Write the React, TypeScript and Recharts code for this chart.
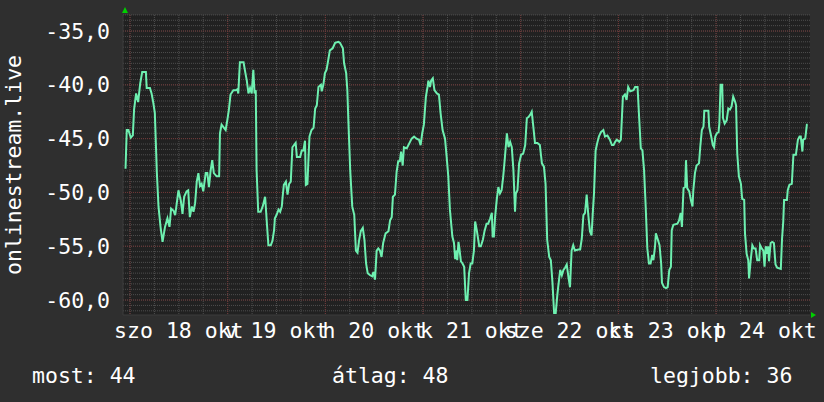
import { CartesianGrid, Line, LineChart, XAxis, YAxis } from "recharts";

// ── adatok (órák okt 18. 00:00-tól) ──────────────────────────────
const hours = [
	-1.1, -0.8, -0.4, 0.2, 0.7, 1.0, 1.5, 2.0, 2.5, 3.0, 3.9, 4.1, 4.9, 5.3, 5.7, 6.1, 6.6, 7.0, 7.5, 8.0,
	8.6, 9.2, 9.7, 10.1, 10.7, 11.1, 11.5, 11.9, 12.5, 12.9, 13.3, 13.9, 14.3, 14.7, 15.2, 15.6, 16.0, 16.4, 16.8, 17.2,
	17.6, 18.0, 18.6, 19.0, 19.4, 19.8, 20.2, 20.6, 21.3, 21.9, 22.1, 22.5, 23.1, 23.5, 23.9, 24.3, 24.7, 25.4, 26.0, 26.4,
	26.6, 27.0, 27.9, 28.3, 28.7, 29.1, 29.5, 29.9, 30.3, 30.6, 30.9, 31.1, 31.5, 32.1, 32.6, 33.2, 33.6, 34.0, 34.6, 35.0,
	35.4, 35.6, 36.0, 36.5, 36.9, 37.3, 37.5, 37.8, 38.3, 38.7, 39.1, 39.5, 39.9, 40.3, 40.7, 41.0, 41.8, 42.2, 42.6, 43.0,
	43.2, 43.6, 43.8, 44.1, 44.6, 45.1, 45.5, 45.9, 46.3, 46.9, 47.1, 47.5, 47.9, 48.3, 48.7, 49.1, 49.8, 50.4, 51.2, 51.6,
	52.3, 52.6, 53.1, 53.4, 53.6, 54.1, 54.6, 55.1, 55.5, 55.9, 56.3, 56.7, 57.2, 57.6, 58.0, 58.4, 59.0, 59.5, 59.8, 60.2,
	60.6, 61.0, 61.4, 61.8, 62.2, 62.8, 63.5, 63.9, 64.3, 64.6, 65.1, 65.5, 65.9, 66.3, 66.6, 67.0, 67.3, 68.0, 68.4, 68.8,
	69.2, 69.8, 70.4, 71.0, 71.4, 71.8, 72.2, 72.7, 73.1, 73.3, 73.7, 74.0, 74.4, 74.8, 75.4, 75.9, 76.3, 76.8, 77.4, 77.8,
	78.2, 78.6, 79.2, 79.6, 79.9, 80.3, 80.4, 80.7, 80.9, 81.3, 81.7, 82.1, 82.5, 82.9, 83.3, 83.7, 84.1, 84.5, 84.8, 85.2,
	85.8, 86.2, 86.7, 87.1, 87.6, 88.0, 88.5, 88.9, 89.1, 89.4, 89.7, 90.1, 90.5, 90.9, 91.3, 91.7, 92.1, 92.6, 93.0, 93.4,
	93.8, 94.2, 94.6, 94.8, 95.2, 95.6, 96.1, 96.6, 97.1, 97.5, 97.9, 98.3, 98.7, 99.1, 99.5, 100.1, 100.7, 101.2, 101.7, 102.1,
	102.5, 103.0, 103.4, 103.8, 104.2, 104.6, 105.0, 105.2, 105.7, 106.1, 106.5, 106.9, 107.3, 107.7, 108.1, 108.5, 108.9, 109.3, 110.2, 110.6,
	111.0, 111.4, 111.8, 112.2, 112.6, 113.0, 113.4, 113.7, 114.0, 114.4, 114.8, 115.2, 115.7, 116.3, 116.7, 117.3, 117.9, 118.4, 118.8, 119.2,
	119.6, 120.2, 120.6, 121.1, 121.6, 122.0, 122.4, 122.9, 123.7, 124.1, 124.7, 125.1, 125.5, 125.9, 126.3, 126.7, 127.1, 127.5, 127.9, 128.3,
	128.6, 129.0, 129.2, 129.7, 130.1, 130.5, 130.7, 131.2, 131.7, 132.1, 132.5, 132.9, 133.1, 133.5, 134.5, 134.9, 135.3, 135.6, 136.0, 136.4,
	136.6, 136.9, 137.4, 137.8, 138.2, 138.4, 138.8, 139.2, 139.8, 140.1, 140.5, 140.9, 141.1, 142.1, 142.3, 142.8, 143.2, 143.5, 143.8, 144.2,
	144.6, 144.8, 145.1, 145.5, 145.7, 146.1, 146.6, 147.0, 147.4, 147.8, 148.2, 148.7, 148.9, 149.2, 149.6, 150.1, 150.4, 150.9, 151.1, 151.5,
	151.9, 152.1, 152.5, 152.9, 153.3, 153.7, 154.1, 154.6, 154.8, 155.2, 155.6, 155.9, 156.2, 156.6, 156.8, 157.0, 157.4, 157.8, 158.2, 158.6,
	159.0, 159.9, 160.2, 160.5, 160.7, 161.4, 161.6, 162.0, 162.6, 163.0, 163.6, 164.1, 164.5, 164.8, 165.2, 165.4, 165.9, 166.3, 166.5,
];

const values = [
	-47.8, -44.2, -44.2, -44.9, -44.7, -42.3, -40.8, -41.6, -39.9, -38.8, -38.8, -40.3, -40.3, -40.8, -41.6, -42.6, -48.2, -51.3, -53.2, -54.6,
	-53.2, -52.4, -53.2, -51.5, -51.7, -52.1, -51.0, -49.8, -50.8, -52.0, -50.4, -49.9, -49.8, -52.3, -51.3, -51.8, -51.0, -49.0, -48.2, -49.4,
	-49.2, -49.9, -48.2, -48.2, -49.5, -48.0, -47.0, -48.2, -48.5, -48.5, -44.5, -43.7, -44.0, -44.2, -43.3, -42.3, -40.9, -40.5, -40.5, -40.4,
	-40.8, -37.9, -37.9, -38.8, -39.6, -40.8, -40.3, -40.8, -38.6, -40.8, -40.5, -47.9, -51.8, -51.8, -51.3, -50.4, -52.7, -54.9, -54.9, -54.5,
	-53.5, -52.4, -52.1, -51.6, -51.8, -51.3, -50.4, -49.3, -49.0, -50.2, -49.2, -49.0, -45.8, -45.6, -45.4, -46.7, -46.7, -46.1, -46.1, -45.2,
	-49.3, -49.2, -47.3, -44.8, -44.2, -44.0, -42.2, -41.9, -40.2, -40.0, -40.6, -40.0, -38.9, -38.6, -37.7, -36.8, -36.6, -36.1, -36.0, -36.1,
	-36.6, -38.0, -38.9, -40.5, -42.8, -47.9, -51.3, -52.1, -55.4, -55.6, -54.4, -53.6, -53.3, -54.4, -56.6, -57.5, -57.7, -57.8, -57.4, -58.1,
	-55.4, -55.2, -55.4, -56.0, -54.7, -53.8, -53.6, -52.6, -52.3, -50.4, -50.2, -48.1, -47.1, -47.1, -46.2, -47.5, -45.8, -45.9, -45.6, -45.3,
	-45.0, -44.8, -45.0, -45.1, -45.6, -44.5, -43.7, -41.1, -40.2, -39.6, -40.2, -39.6, -39.4, -40.5, -40.8, -40.9, -42.6, -44.2, -45.0, -46.7,
	-48.5, -51.6, -54.1, -54.7, -56.2, -55.4, -56.3, -54.6, -55.1, -56.4, -56.6, -56.9, -60.0, -60.0, -57.5, -56.6, -56.6, -55.4, -52.7, -53.5,
	-55.0, -55.0, -54.4, -53.6, -52.9, -52.9, -52.4, -51.9, -54.1, -54.1, -52.3, -50.7, -49.5, -50.1, -49.8, -48.5, -46.8, -44.5, -45.8, -45.3,
	-45.8, -47.9, -51.8, -50.1, -49.8, -47.3, -46.5, -46.4, -45.6, -43.1, -43.0, -42.8, -42.5, -43.9, -45.4, -45.4, -45.6, -47.3, -47.6, -49.2,
	-54.4, -56.0, -56.3, -58.4, -61.2, -61.2, -59.5, -58.8, -57.2, -57.7, -57.2, -57.0, -56.7, -57.8, -58.8, -55.4, -54.9, -55.4, -55.3, -55.3,
	-54.3, -52.1, -51.9, -50.2, -52.1, -53.6, -54.0, -51.9, -50.1, -46.1, -45.4, -44.8, -44.4, -44.2, -44.8, -44.7, -45.1, -45.6, -45.6, -45.3,
	-45.1, -45.3, -45.1, -41.1, -40.9, -41.4, -40.2, -40.6, -40.5, -40.2, -40.2, -43.1, -45.9, -46.1, -47.9, -51.3, -55.2, -56.6, -56.6, -55.8,
	-56.3, -55.0, -53.8, -54.4, -54.9, -56.6, -58.4, -58.8, -58.9, -58.8, -57.2, -56.9, -53.5, -53.0, -52.9, -52.6, -51.9, -53.2, -49.6, -49.5,
	-47.0, -49.6, -49.9, -50.7, -51.3, -49.8, -48.2, -47.5, -47.3, -45.8, -44.2, -43.9, -42.4, -42.4, -43.9, -44.8, -45.6, -45.8, -44.8, -44.5,
	-44.4, -43.6, -40.0, -40.0, -43.1, -43.6, -43.3, -42.2, -42.3, -42.0, -41.1, -41.6, -41.9, -46.4, -48.5, -49.2, -50.6, -50.7, -53.8, -55.7,
	-56.3, -58.0, -56.3, -54.9, -55.2, -55.2, -56.3, -56.3, -54.9, -55.2, -55.4, -56.9, -55.0, -55.7, -55.0, -56.4, -54.7, -54.6, -54.7, -56.7,
	-57.0, -57.1, -54.3, -52.7, -50.7, -50.7, -49.8, -49.3, -49.2, -46.5, -46.5, -45.1, -44.8, -44.8, -46.2, -45.1, -45.0, -43.7, -43.7,
];

const dayLabelHours = [12, 36, 60, 84, 108, 132, 156];
const dayLabels = ["szo 18 okt", "v 19 okt", "h 20 okt", "k 21 okt", "sze 22 okt", "cs 23 okt", "p 24 okt"];
const yTicks = [-60, -55, -50, -45, -40, -35];

const statLabels = ["most: 44", "átlag: 48", "legjobb: 36"];
const seriesName = "onlinestream.live";

// ── rács (6 óránként / 0,5-enként, nagy: naponta / 5-enként) ─────
const minorX: number[] = [];
for (let h = 0; h <= 166; h += 6) minorX.push(h);
const majorX = minorX.filter((h) => h % 24 === 0);
const minorY: number[] = [];
for (let v = -61; v <= -33.5; v += 0.5) minorY.push(v);
const majorY = yTicks;

const X_DOMAIN: [number, number] = [-1.72, 167.07];
const Y_DOMAIN: [number, number] = [-61.39, -33.51];

const FONT = "DejaVu Sans Mono";
const FONT_SIZE = 21.5;
const LINE_COLOR = "#6ef0b0";
const BG = "#2f2f2f";
const PLOT_BG = "#212121";

const data = hours.map((h, i) => ({ h, v: values[i] }));

export default function App() {
	return (
		<div style={{ position: "absolute", left: 0, top: 0, width: 824, height: 402, background: BG }}>
			<LineChart width={824} height={402} data={data} margin={{ top: 15, right: 14, bottom: 57, left: 0 }}>
				<CartesianGrid
					verticalValues={minorX}
					horizontalValues={minorY}
					stroke="#4e4e4e"
					strokeDasharray="1 1"
					fill={PLOT_BG}
					fillOpacity={1}
				/>
				<CartesianGrid
					verticalValues={majorX}
					horizontalValues={majorY}
					stroke="#703636"
					strokeDasharray="1 1"
				/>
				<XAxis
					dataKey="h"
					type="number"
					domain={X_DOMAIN}
					allowDataOverflow
					ticks={dayLabelHours}
					interval={0}
					tickFormatter={(h) => dayLabels[dayLabelHours.indexOf(h)] ?? ""}
					tick={{ fill: "#ffffff", fontSize: FONT_SIZE, fontFamily: FONT }}
					tickLine={false}
					axisLine={{ stroke: "#3c3c3c" }}
					height={30}
				/>
				<YAxis
					dataKey="v"
					type="number"
					domain={Y_DOMAIN}
					allowDataOverflow
					ticks={yTicks}
					interval={0}
					tickFormatter={(v) => v.toFixed(1).replace(".", ",")}
					tick={{ fill: "#ffffff", fontSize: FONT_SIZE, fontFamily: FONT }}
					tickLine={false}
					tickMargin={7}
					axisLine={{ stroke: "#3c3c3c" }}
					width={123}
				/>
				<Line
					type="linear"
					dataKey="v"
					stroke={LINE_COLOR}
					strokeWidth={2}
					dot={false}
					isAnimationActive={false}
				/>
			</LineChart>
			<svg
				width={824}
				height={402}
				style={{ position: "absolute", left: 0, top: 0, pointerEvents: "none" }}
				fontFamily={FONT}
				fontSize={FONT_SIZE}
				fill="#ffffff"
			>
				<polygon points="122,13 128,13 125,7" fill="#00d000" />
				<polygon points="811,312 811,318 816,315" fill="#00d000" />
				<text x={21} y={165} textAnchor="middle" transform="rotate(-90 21 165)">
					{seriesName}
				</text>
				<text x={32} y={383}>{statLabels[0]}</text>
				<text x={332} y={383}>{statLabels[1]}</text>
				<text x={650} y={383}>{statLabels[2]}</text>
			</svg>
		</div>
	);
}
